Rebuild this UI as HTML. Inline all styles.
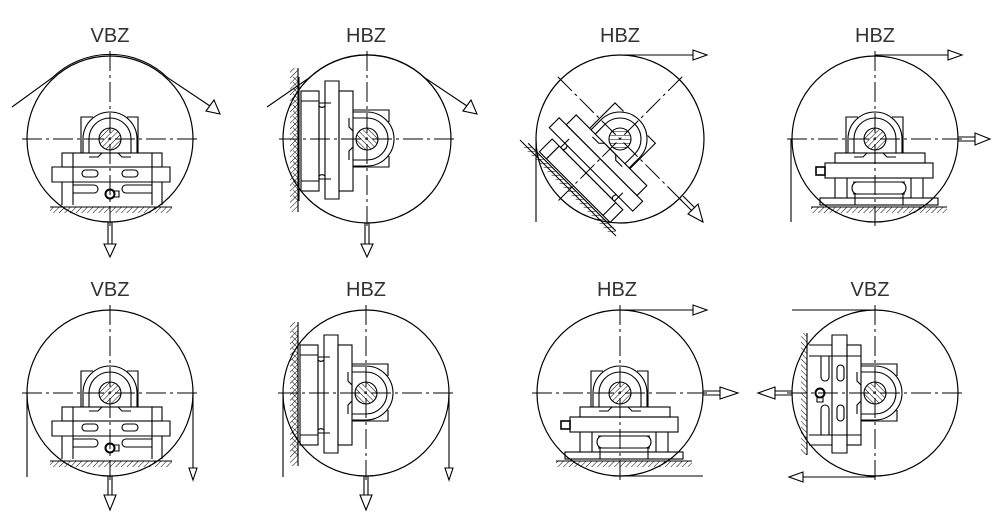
<!DOCTYPE html>
<html><head><meta charset="utf-8"><style>
html,body{margin:0;padding:0;background:#fff;}
svg{display:block;}
text{font-family:"Liberation Sans",sans-serif;font-size:20px;fill:#333;}
</style></head><body>
<svg width="997" height="528" viewBox="0 0 997 528" xmlns="http://www.w3.org/2000/svg">
<defs>
<pattern id="h" width="4" height="4" patternUnits="userSpaceOnUse" patternTransform="rotate(45)">
<line x1="0" y1="0" x2="0" y2="4" stroke="#000" stroke-width="1"/></pattern>
<g id="top" fill="none" stroke="#000" stroke-width="1.1">
<path d="M-29,14 L-29,-22 L-17,-22 M17,-22 L28,-22 L28,14"/>
<path d="M-27,14 L-27,0 A27,27 0 0 1 27,0 L27,14"/>
<path d="M-21,14 L-21,0 A21,21 0 0 1 21,0 L21,14"/>
<path d="M-21,18 L-12,18 L-8,14 L8,14 L12,18 L21,18"/>
<circle cx="0" cy="0" r="11" fill="url(#h)"/>
</g>
<g id="bA" fill="none" stroke="#000" stroke-width="1.1">
<use href="#top"/>
<rect x="-48" y="14" width="100" height="14"/>
<path d="M-58,28 L60,28 L60,43 L-58,43 Z"/>
<path d="M-48,43 L-48,66 M52,43 L52,66 M-37,14 L-37,66 M42,14 L42,66"/>
<rect x="-28" y="31" width="16" height="7" rx="3.5"/>
<rect x="12" y="31" width="16" height="7" rx="3.5"/>
<path d="M-37,46 L-16,46 A4,4 0 0 1 -16,54 L-37,54 M42,46 L16,46 A4,4 0 0 0 16,54 L42,54"/>
<circle cx="0" cy="55" r="4.5" stroke-width="2"/>
<path d="M4,52 L9,52 L9,58 L4,58"/>
<line x1="-60" y1="68" x2="62" y2="68"/>
<rect x="-60" y="68" width="122" height="6" fill="url(#h)" stroke="none"/>
</g>
<g id="bB" fill="none" stroke="#000" stroke-width="1.1">
<use href="#top"/>
<rect x="-40" y="14" width="90" height="10"/>
<rect x="-50" y="24" width="108" height="15"/>
<rect x="-59" y="28" width="9" height="8" stroke-width="1.6"/>
<path d="M-40,39 L-40,59 M48,39 L48,59 M-28,39 L-28,59 M36,39 L36,59"/>
<path d="M-22,43 L30,43 M-22,55 L30,55 M-18,43 A5,6 0 0 0 -18,55 M26,43 A5,6 0 0 1 26,55"/>
<path d="M-20,59 L28,59 M-20,55 L-20,66 M28,55 L28,66"/>
<rect x="-55" y="59" width="118" height="7"/>
<line x1="-64" y1="68" x2="72" y2="68"/>
<rect x="-64" y="68" width="136" height="6" fill="url(#h)" stroke="none"/>
</g>
<g id="bC" fill="none" stroke="#000" stroke-width="1.1">
<use href="#top"/>
<rect x="-48" y="14" width="100" height="14"/>
<path d="M-58,28 L60,28 L60,42 L-58,42 Z"/>
<path d="M-36,36 L-36,48 L40,48 L40,36"/>
<path d="M-33,42 A4,4 0 0 1 -33,48 M37,42 A4,4 0 0 0 37,48"/>
<rect x="-48" y="48" width="100" height="18"/>
<path d="M-38,48 L-38,66 M42,48 L42,66"/>
<line x1="-62" y1="68" x2="62" y2="68"/>
<rect x="-62" y="68" width="124" height="6" fill="url(#h)" stroke="none"/>
</g>
<g id="cl" fill="none" stroke="#000" stroke-width="1" stroke-dasharray="20,4,3,4">
<line x1="-88" y1="0" x2="88" y2="0"/>
<line x1="0" y1="-88" x2="0" y2="90"/>
</g>
</defs>

<g fill="none" stroke="#000" stroke-width="1.2">
<circle cx="110" cy="139" r="83"/><circle cx="367" cy="139" r="84"/>
<circle cx="620" cy="139" r="84"/><circle cx="875" cy="139" r="83"/>
<circle cx="110" cy="393" r="83"/><circle cx="366" cy="393" r="83"/>
<circle cx="620" cy="393" r="83"/><circle cx="875" cy="393" r="83"/>
</g>
<use href="#cl" x="110" y="139"/><use href="#cl" x="367" y="139"/>
<use href="#cl" x="875" y="139"/>
<g transform="translate(620,139) rotate(45)"><use href="#cl"/></g>
<use href="#cl" x="110" y="393"/><use href="#cl" x="366" y="393"/>
<use href="#cl" x="620" y="393"/><use href="#cl" x="875" y="393"/>

<use href="#bA" x="110" y="139"/>
<g transform="translate(367,139) rotate(90)"><use href="#bC"/></g>
<g transform="translate(620,139) rotate(45)"><use href="#bC"/></g>
<use href="#bB" x="875" y="139"/>
<use href="#bA" x="110" y="393"/>
<g transform="translate(366,393) rotate(90)"><use href="#bC"/></g>
<use href="#bB" x="620" y="393"/>
<g transform="translate(875,393) rotate(90)"><use href="#bA"/></g>

<g fill="none" stroke="#000" stroke-width="1.1">
<path d="M12,107 L52,78 A83,83 0 0 1 168,78 L210,106"/>
<polygon points="206,111 214,100 220,114"/>
<path d="M108,222 L108,244 M112,222 L112,244"/>
<polygon points="104,244 116,244 110,257"/>
<path d="M267,107 L309,78 A84,84 0 0 1 425,78 L467,106"/>
<polygon points="463,111 471,100 477,114"/>
<path d="M365,223 L365,244 M369,223 L369,244"/>
<polygon points="361,244 373,244 367,257"/>
<path d="M620,55 L693,55"/><polygon points="693,50 693,60 707,55"/>
<path d="M536,139 L536,222"/>
<path d="M680,199 L692,211 M683,196 L695,208"/>
<polygon points="688,214 698,204 703,222"/>
<path d="M875,55 L948,55"/><polygon points="948,50 948,60 962,55"/>
<path d="M958,137 L975,137 M958,141 L975,141"/><polygon points="975,133 975,145 990,139"/>
<path d="M791,139 L791,222"/>
<path d="M27,393 L27,477 M193,393 L193,468"/>
<polygon points="189,468 197,468 193,480"/>
<path d="M108,476 L108,495 M112,476 L112,495"/>
<polygon points="104,495 116,495 110,510"/>
<path d="M283,393 L283,477 M449,393 L449,468"/>
<polygon points="445,468 453,468 449,480"/>
<path d="M364,476 L364,495 M368,476 L368,495"/>
<polygon points="360,495 372,495 366,510"/>
<path d="M620,310 L693,310"/><polygon points="693,305 693,315 707,310"/>
<path d="M620,476 L703,476"/>
<path d="M703,391 L720,391 M703,395 L720,395"/><polygon points="720,387 720,399 738,393"/>
<path d="M792,310 L875,310"/>
<path d="M875,477 L803,477"/><polygon points="803,472 803,482 789,477"/>
<path d="M792,391 L775,391 M792,395 L775,395"/><polygon points="775,387 775,399 758,393"/>
</g>

<g stroke="#000" stroke-width="1.1">
<line x1="298" y1="68" x2="298" y2="212"/>
<rect x="290" y="68" width="8" height="144" fill="url(#h)" stroke="none"/>
<line x1="298" y1="322" x2="298" y2="466"/>
<rect x="290" y="322" width="8" height="144" fill="url(#h)" stroke="none"/>
<line x1="520" y1="140" x2="616" y2="236"/>
</g>

<text x="110" y="42" text-anchor="middle">VBZ</text>
<text x="366" y="42" text-anchor="middle">HBZ</text>
<text x="620" y="42" text-anchor="middle">HBZ</text>
<text x="875" y="42" text-anchor="middle">HBZ</text>
<text x="110" y="296" text-anchor="middle">VBZ</text>
<text x="366" y="296" text-anchor="middle">HBZ</text>
<text x="617" y="296" text-anchor="middle">HBZ</text>
<text x="870" y="296" text-anchor="middle">VBZ</text>
</svg>
</body></html>
